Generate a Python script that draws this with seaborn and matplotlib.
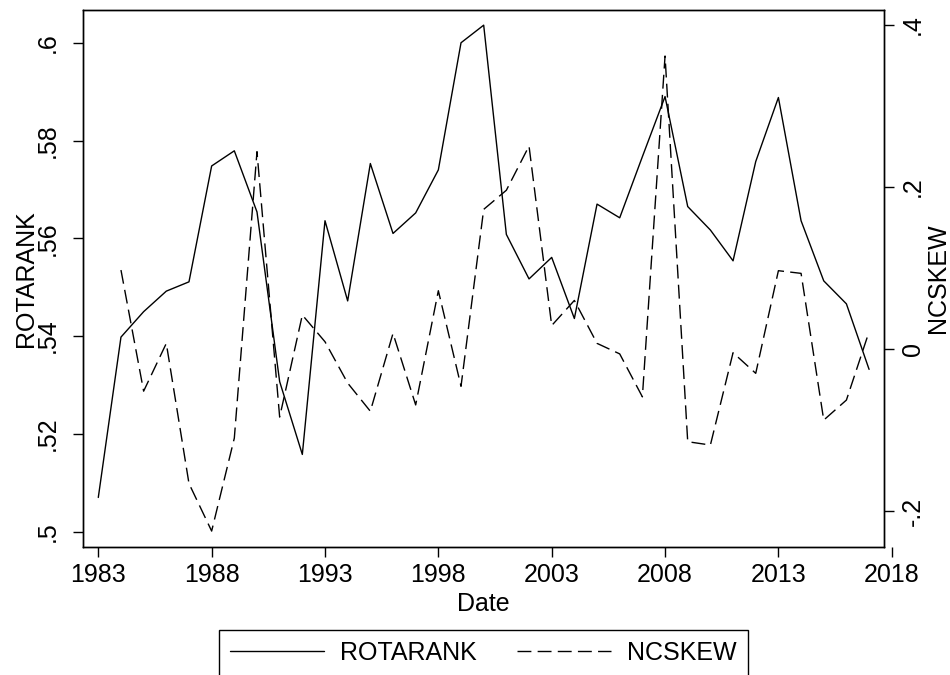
import matplotlib
matplotlib.use('Agg')
import matplotlib.pyplot as plt
import pandas as pd
import seaborn as sns

#   data
years = [1983, 1984, 1985, 1986, 1987, 1988, 1989, 1990, 1991, 1992,
         1993, 1994, 1995, 1996, 1997, 1998, 1999, 2000, 2001, 2002,
         2003, 2004, 2005, 2006, 2007, 2008, 2009, 2010, 2011, 2012,
         2013, 2014, 2015, 2016, 2017]
rotarank = [0.5070, 0.5398, 0.5450, 0.5492, 0.5511, 0.5748, 0.5779, 0.5654, 0.5307, 0.5158,
            0.5636, 0.5472, 0.5753, 0.5610, 0.5652, 0.5740, 0.6000, 0.6036, 0.5608, 0.5517,
            0.5561, 0.5436, 0.5670, 0.5642, 0.5767, 0.5890, 0.5665, 0.5617, 0.5554, 0.5757,
            0.5888, 0.5636, 0.5513, 0.5466, 0.5332]
ncskew_years = years[1:]
ncskew = [0.0975, -0.052, 0.007, -0.166, -0.2247, -0.110, 0.2436, -0.084, 0.042,
          0.009, -0.042, -0.0768, 0.0193, -0.069, 0.072, -0.046, 0.1724, 0.196, 0.2506,
          0.029, 0.060, 0.007, -0.006, -0.059, 0.3617, -0.1144, -0.1185, -0.0045, -0.030,
          0.0967, 0.0934, -0.0877, -0.063, 0.0214]

series_names = ['ROTARANK', 'NCSKEW']
left_ticks = [0.50, 0.52, 0.54, 0.56, 0.58, 0.60]
left_labels = ['.5', '.52', '.54', '.56', '.58', '.6']
right_ticks = [-0.2, 0.0, 0.2, 0.4]
right_labels = ['-.2', '0', '.2', '.4']
year_ticks = [1983, 1988, 1993, 1998, 2003, 2008, 2013, 2018]
year_labels = [str(y) for y in year_ticks]

df1 = pd.DataFrame({'year': years, 'ROTARANK': rotarank})
df2 = pd.DataFrame({'year': ncskew_years, 'NCSKEW': ncskew})

#   style (stata-like, black on white)
sns.set_style('ticks', {'axes.edgecolor': 'black', 'xtick.color': 'black',
                        'ytick.color': 'black', 'text.color': 'black',
                        'axes.labelcolor': 'black'})
plt.rcParams['font.family'] = ['Liberation Sans', 'DejaVu Sans']
plt.rcParams['font.size'] = 18

fig = plt.figure(figsize=(9.5, 6.75), dpi=100)

#   frame in pixels: x 82.7-884, y 10-546.7
px_year = 22.67
x0 = 1982.312
left, bottom = 82.7 / 950, (675 - 546.7) / 675
width, height = (884 - 82.7) / 950, (546.7 - 10) / 675

ax = fig.add_axes([left, bottom, width, height])
ax2 = ax.twinx()

sns.lineplot(data=df1, x='year', y='ROTARANK', ax=ax, color='black', lw=1.0, legend=False)
sns.lineplot(data=df2, x='year', y='NCSKEW', ax=ax2, color='black', lw=1.0,
             linestyle=(0, (10, 4.5)), legend=False)

ax.set_xlim(x0, x0 + (884 - 82.7) / px_year)
ax.set_ylim(0.49693, 0.6067)
ax2.set_ylim(-0.244, 0.4185)

ax.tick_params(axis='x', bottom=False, labelbottom=False)
ax.set_yticks(left_ticks, left_labels)
ax.tick_params(axis='y', direction='out', length=7.2, width=1.0, labelrotation=90, pad=9)
plt.setp(ax.get_yticklabels(), va='center')
ax2.set_yticks(right_ticks, right_labels)
ax2.tick_params(axis='y', direction='out', length=7.2, width=1.0, labelrotation=90, pad=5)
plt.setp(ax2.get_yticklabels(), va='center')

for a in (ax, ax2):
    for sp in a.spines.values():
        sp.set_linewidth(1.0)

ax.set_xlabel('Date')
ax.xaxis.set_label_coords(0.5, -0.0838)
ax.set_ylabel('ROTARANK')
ax.yaxis.set_label_coords(-0.0558, 0.5)
ax2.set_ylabel('NCSKEW')
ax2.yaxis.set_label_coords(1.0524, 0.5)

#   x axis runs a little past the frame so the 2018 tick shows
axx = fig.add_axes([left, bottom, (900 - 82.7) / 950, height])
axx.patch.set_visible(False)
for sp in axx.spines.values():
    sp.set_visible(False)
axx.set_xlim(x0, x0 + (900 - 82.7) / px_year)
axx.set_yticks([])
axx.set_xticks(year_ticks, year_labels)
axx.tick_params(axis='x', direction='out', length=7.2, width=1.0, pad=4.5)

leg = fig.legend(handles=[ax.lines[0], ax2.lines[0]], labels=series_names,
                 loc='upper center', bbox_to_anchor=((82.7 + 884) / 2 / 950, (675 - 630) / 675),
                 ncol=2, frameon=True, fancybox=False, edgecolor='black', framealpha=1,
                 handlelength=3.76, handletextpad=0.64, columnspacing=1.64,
                 borderpad=0.44, borderaxespad=0)
leg.get_frame().set_linewidth(1.0)

plt.savefig('out.png', dpi=100)
